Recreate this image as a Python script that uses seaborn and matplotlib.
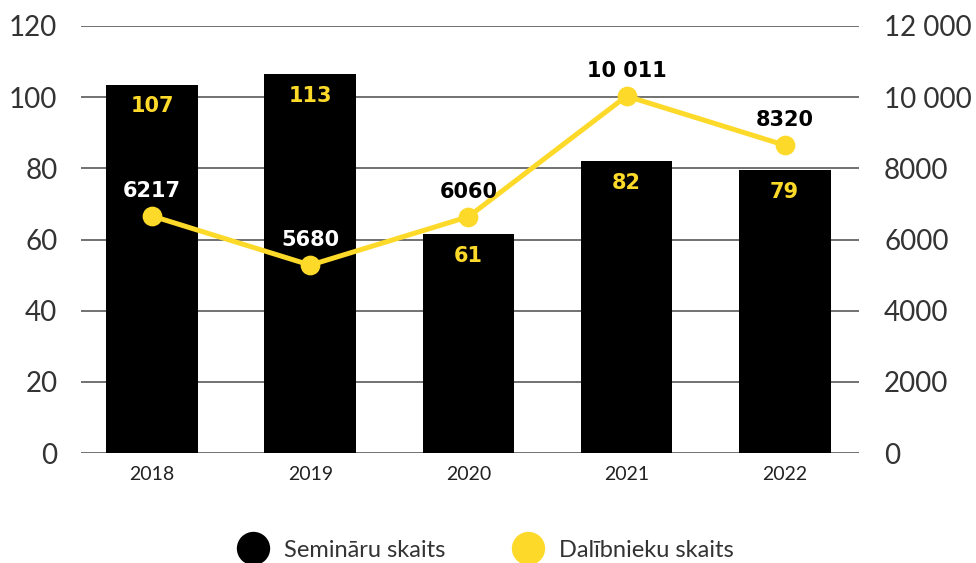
import matplotlib
matplotlib.use("Agg")
import matplotlib.pyplot as plt
from matplotlib.lines import Line2D
import seaborn as sns
import pandas as pd

years = ["2018", "2019", "2020", "2021", "2022"]
seminars_drawn = [103.5, 106.5, 61.5, 82, 79.5]
seminar_labels = ["107", "113", "61", "82", "79"]
participants_drawn = [6660, 5280, 6640, 10030, 8650]
participant_labels = ["6217", "5680", "6060", "10 011", "8320"]
left_ticks = [0, 20, 40, 60, 80, 100, 120]
right_ticks = [0, 2000, 4000, 6000, 8000, 10000, 12000]
right_tick_labels = ["0", "2000", "4000", "6000", "8000", "10 000", "12 000"]
label_on_bar_color = ["white", "white", "black", "black", "black"]

YELLOW = "#FDD92A"
TXT = "#333333"
sns.set_style("white")
plt.rcParams["font.family"] = ["Lato", "DejaVu Sans"]

df = pd.DataFrame({"year": years, "seminars": seminars_drawn, "participants": participants_drawn})

fig = plt.figure(figsize=(9.76, 5.63), dpi=100)
ax = fig.add_axes([81 / 976, 110 / 563, 778 / 976, 427 / 563])
sns.barplot(data=df, x="year", y="seminars", color="black", width=0.58, ax=ax,
            saturation=1, zorder=2)
for p in ax.patches:
    p.set_edgecolor("none")
ax.set_ylim(0, 120)
ax.set_yticks(left_ticks)
ax.set_yticklabels([str(t) for t in left_ticks], fontsize=20, color=TXT)
ax.yaxis.grid(True, color="#4a4a4a", linewidth=1.1, zorder=0)
ax.set_axisbelow(True)
ax.set_xlabel("")
ax.set_ylabel("")
ax.tick_params(axis="y", length=0, pad=17)
ax.tick_params(axis="x", length=0, pad=9, labelsize=14, labelcolor="#222222")
for s in ax.spines.values():
    s.set_visible(False)

for i, (v, lab) in enumerate(zip(seminars_drawn, seminar_labels)):
    ax.annotate(lab, (i, v), xytext=(0, -15.5), textcoords="offset points",
                ha="center", va="center", color=YELLOW, fontsize=15,
                fontweight="bold", family="DejaVu Sans", zorder=5)

ax2 = ax.twinx()
sns.pointplot(data=df, x="year", y="participants", color=YELLOW, ax=ax2,
              markers="o", markersize=11.5, linewidth=3.6, errorbar=None)
ax2.set_ylim(0, 12000)
ax2.set_yticks(right_ticks)
ax2.set_yticklabels(right_tick_labels, fontsize=20, color=TXT)
ax2.tick_params(axis="y", length=0, pad=18)
ax2.set_ylabel("")
ax2.grid(False)
for s in ax2.spines.values():
    s.set_visible(False)

for i, (v, lab, c) in enumerate(zip(participants_drawn, participant_labels, label_on_bar_color)):
    ax2.annotate(lab, (i, v), xytext=(0, 18), textcoords="offset points",
                 ha="center", va="center", color=c, fontsize=15,
                 fontweight="bold", family="DejaVu Sans", zorder=6)

ax.set_xlim(-0.45, 4.47)
ax2.set_xlim(-0.45, 4.47)

handles = [
    Line2D([], [], marker="o", linestyle="none", markersize=24, markerfacecolor="black",
           markeredgecolor="none", label="Semināru skaits"),
    Line2D([], [], marker="o", linestyle="none", markersize=24, markerfacecolor=YELLOW,
           markeredgecolor="none", label="Dalībnieku skaits"),
]
leg = fig.legend(handles=handles, loc="center", bbox_to_anchor=(0.496, 0.023), ncol=2,
                 frameon=False, prop={"size": 17}, handletextpad=0.5,
                 columnspacing=2.7, handlelength=1.6)
for t in leg.get_texts():
    t.set_color(TXT)

fig.savefig("out.png", dpi=100)
